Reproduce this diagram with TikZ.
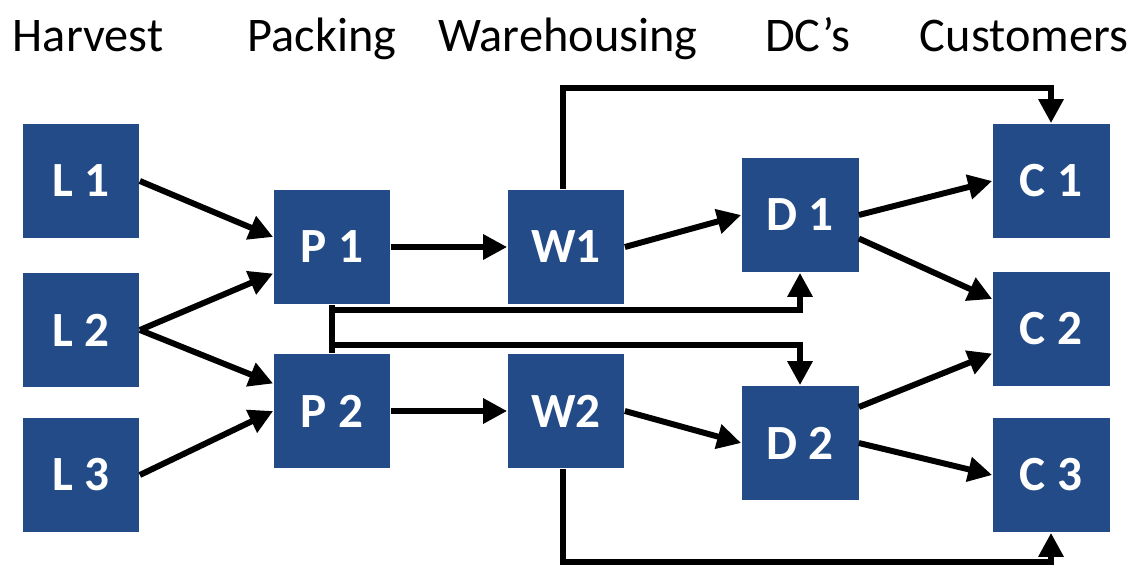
\documentclass[tikz,border=0pt]{standalone}
\usepackage{fontspec}
\setmainfont{Carlito}
\usetikzlibrary{arrows.meta}
\definecolor{boxblue}{RGB}{35,75,135}
\tikzset{
stage/.style={fill=boxblue,minimum width=2.34cm,minimum height=2.3cm,inner sep=0pt,text=white,font=\fontsize{28}{28}\selectfont\bfseries},
title/.style={anchor=base,font=\fontsize{27.5}{28}\selectfont},
flow/.style={line width=3.4pt,-{Triangle[length=0.48cm,width=0.48cm]}},
wire/.style={line width=3.4pt}
}
\begin{document}
\begin{tikzpicture}[x=0.02cm,y=-0.02cm]
\useasboundingbox (0,0) rectangle (1138,568);
\node[title] (th) at (88,51) {Harvest};
\node[title] (tp) at (322,51) {Packing};
\node[title] (tw) at (568,51) {Warehousing};
\node[title] (td) at (808,51) {DC’s};
\node[title] (tc) at (1024,51) {Customers};
\foreach \n/\t/\x/\y in {L1/L 1/81/181,L2/L 2/81/330,L3/L 3/81/475,P1/P 1/332/247,P2/P 2/332/411,W1/W1/566/247,W2/W2/566/411,D1/D 1/800/215,D2/D 2/800/443,C1/C 1/1051/181,C2/C 2/1051/329,C3/C 3/1051/475}{
\node[stage] (\n) at (\x,\y) {\t};
}
\draw[flow] (L1.east) -- ([yshift=0.2cm]P1.west);
\draw[flow] (L2.east) -- ([yshift=-0.53cm]P1.west);
\draw[flow] (L2.east) -- ([yshift=0.55cm]P2.west);
\draw[flow] (L3.east) -- (P2.west);
\draw[flow] (P1) -- (W1);
\draw[flow] (P2) -- (W2);
\draw[flow] (W1.east) -- (D1.west);
\draw[flow] (W2.east) -- (D2.west);
\draw[flow] (D1.east) -- (C1.west);
\draw[flow] ([yshift=-0.47cm]D1.east) -- ([yshift=0.6cm]C2.west);
\draw[flow] ([yshift=0.72cm]D2.east) -- ([yshift=-0.49cm]C2.west);
\draw[flow] (D2.east) -- (C3.west);
% links between packing and DC's
\coordinate (j1) at (332,310);
\coordinate (j2) at (332,345);
\draw[wire] (P1.south) -- (P2.north);
\draw[flow] (j1) -| (D1.south);
\draw[flow] (j2) -| (D2.north);
% direct to customers
\coordinate (top) at (0,88);
\coordinate (bot) at (0,562);
\draw[flow] ([xshift=-0.06cm]W1.north) |- (top -| C1.north) -- (C1.north);
\draw[flow] ([xshift=-0.06cm]W2.south) |- (bot -| C3.south) -- (C3.south);
\end{tikzpicture}
\end{document}
